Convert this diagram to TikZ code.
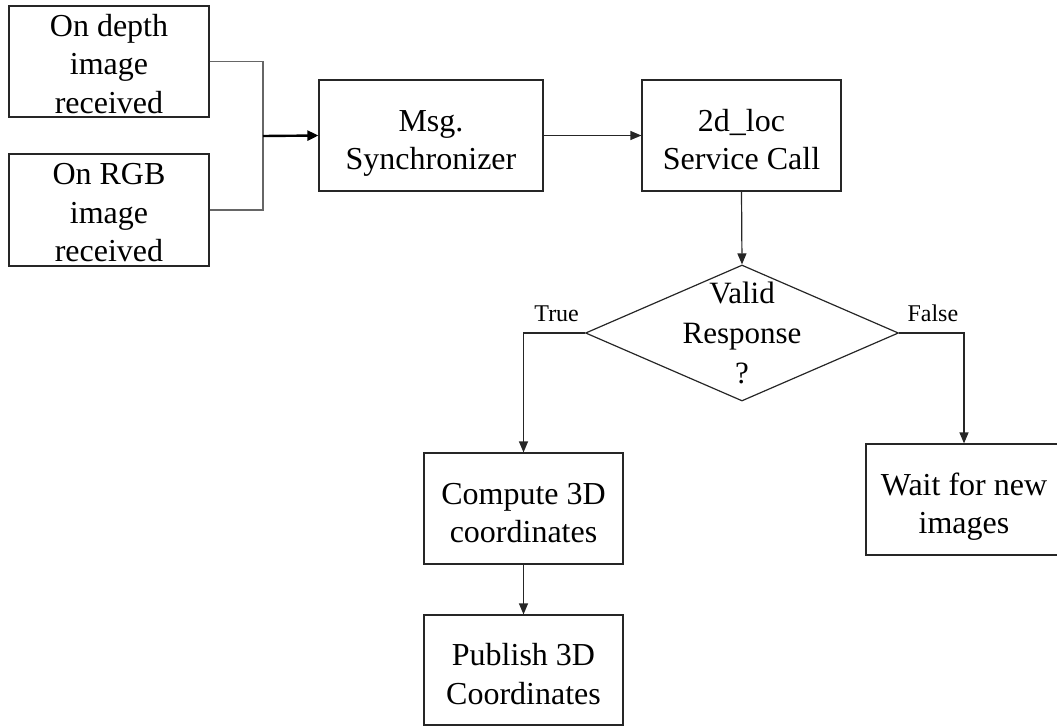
\documentclass[tikz,border=0pt]{standalone}
\usepackage{fontspec}
\setmainfont{Liberation Serif}
\usetikzlibrary{arrows.meta,shapes.geometric}

% fixed line struts so every box text is centred the same way
\newcommand{\firstln}[1][41pt]{\rule{0pt}{#1}}
\newcommand{\lastln}[1][11.5pt]{\rule[-#1]{0pt}{#1}}

\tikzset{
  box/.style={draw=black!85, line width=1.2pt, rectangle, inner sep=0pt,
    align=center, font=\fontsize{32}{38.5}\selectfont},
  decision/.style={draw=black!85, line width=1.2pt, diamond, inner sep=0pt,
    minimum width=313pt, minimum height=136pt},
  decisiontext/.style={align=center, inner sep=0pt,
    font=\fontsize{31}{40}\selectfont},
  flow/.style={draw=black!85, line width=1.2pt,
    -{Triangle[length=11pt,width=9pt]}},
  feed/.style={draw=black!60, line width=1.4pt},
  lbl/.style={font=\fontsize{24}{27}\selectfont, inner sep=3pt},
}

\begin{document}
\begin{tikzpicture}[x=1pt, y=-1pt]
  \useasboundingbox (0,0) rectangle (1057,726);

  % image callbacks
  \node[box, minimum width=200pt, minimum height=111pt] (depth) at (109,61.5)
    {\firstln[28pt]On depth\\image\\received\lastln[2pt]};
  \node[box, minimum width=200pt, minimum height=112pt] (rgb) at (109,210)
    {\firstln[28pt]On RGB\\image\\received\lastln[2pt]};

  % processing chain
  \node[box, minimum width=224pt, minimum height=111pt] (sync) at (431,135.5)
    {\firstln Msg.\\Synchronizer\lastln};
  \node[box, minimum width=199pt, minimum height=111pt] (loc) at (741.5,135.5)
    {\firstln 2d\_loc\\Service Call\lastln};
  \node[decision] (valid) at (742,333) {};
  \node[decisiontext] (validtext) at (valid.center) {Valid\\Response\\?};
  \node[box, minimum width=199pt, minimum height=111pt] (compute) at (523.5,508.5)
    {\firstln Compute 3D\\coordinates\lastln};
  \node[box, minimum width=199pt, minimum height=110pt] (publish) at (523.5,670)
    {\firstln Publish 3D\\Coordinates\lastln};
  \node[box, minimum width=196pt, minimum height=111pt] (wait) at (964,499.5)
    {\firstln Wait for new\\images\lastln};

  % merge of both image streams
  \coordinate (merge) at (263,136);
  \draw[feed] (depth.east) -| (merge);
  \draw[feed] (rgb.east) -| (merge);
  \draw[draw=black, line width=2.4pt, -{Triangle[length=11pt,width=10pt]}]
    (merge) -- (sync.west);

  % main flow
  \draw[flow] (sync.east) -- (loc.west);
  \draw[flow] (loc.south) -- (valid.north);
  \draw[flow] (valid.west) -| node[lbl, pos=0.23, above=8pt] {True} (compute.north);
  \draw[flow] (valid.east) -| node[lbl, pos=0.26, above=8pt] {False} (wait.north);
  \draw[flow] (compute.south) -- (publish.north);
\end{tikzpicture}
\end{document}
